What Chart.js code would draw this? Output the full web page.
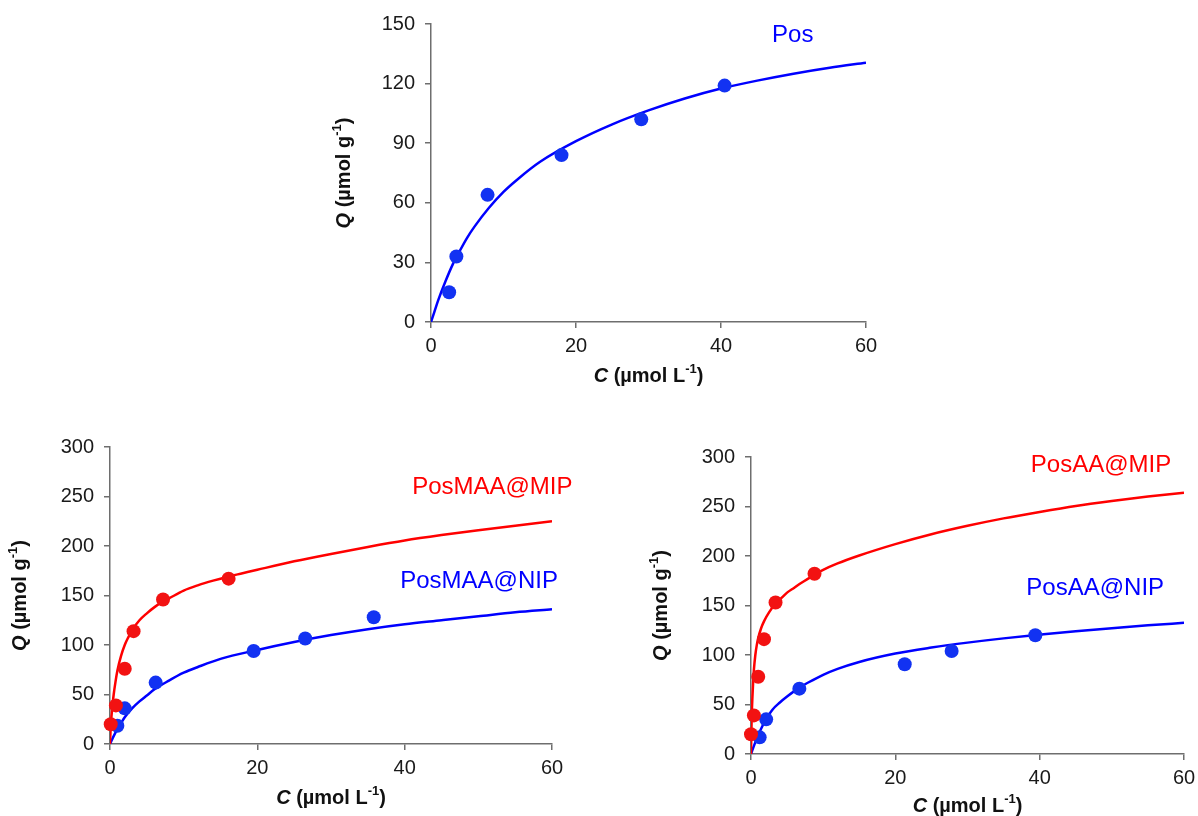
<!DOCTYPE html>
<html>
<head>
<meta charset="utf-8">
<title>Isothermes d'adsorption</title>
<script src="https://cdn.jsdelivr.net/npm/chart.js@4.4.1/dist/chart.umd.min.js"></script>
<style>
  html, body { margin: 0; padding: 0; background: #fff; overflow: hidden; }
  .panel { position: absolute; }
</style>
</head>
<body>
<div class="panel" id="panelPos"><canvas id="chartPos"></canvas></div>
<div class="panel" id="panelMAA"><canvas id="chartMAA"></canvas></div>
<div class="panel" id="panelAA"><canvas id="chartAA"></canvas></div>
<script>
// --- Pos ---
var posCurveC = [0, 0.5, 1, 2, 3, 4, 5, 6, 8, 10, 12, 15, 20, 25, 30, 35, 40, 45, 50, 55, 60];
var posCurveQ = [0, 5.5, 11, 20.5, 29, 36, 42.5, 48, 57.5, 65.5, 72, 80.5, 91, 99.5, 106.5, 112.5, 117.5, 121.5, 125, 128, 130.5];
var posExpC = [2.5, 3.5, 7.8, 18, 29, 40.5];
var posExpQ = [15, 33, 64, 84, 102, 119];

// --- PosMAA ---
var maaMipCurveC = [0, 0.1, 0.2, 0.35, 0.5, 0.75, 1, 1.5, 2, 2.5, 3, 4, 5, 6, 7, 8, 10, 12, 14, 16, 18, 20, 25, 30, 35, 40, 45, 50, 55, 60];
var maaMipCurveQ = [0, 18, 28, 40, 50, 63, 74, 89, 100, 108, 115, 125, 132, 138, 143, 147, 155, 160.5, 165, 169, 172.5, 176, 184.5, 192, 199, 205.5, 211, 216, 220.5, 225];
var maaMipExpC = [0.1, 0.8, 2.0, 3.2, 7.2, 16.1];
var maaMipExpQ = [20, 39, 76, 114, 146, 167];

var maaNipCurveC = [0, 0.25, 0.5, 1, 1.5, 2, 3, 4, 5, 6, 8, 10, 12, 15, 20, 25, 30, 35, 40, 45, 50, 55, 60];
var maaNipCurveQ = [0, 4, 8, 15, 21, 27, 36, 43, 49, 55, 64, 72, 78, 86, 95, 103, 110, 116, 121, 125, 129, 133, 136];
var maaNipExpC = [1.0, 2.0, 6.2, 19.5, 26.5, 35.8];
var maaNipExpQ = [18.5, 36, 62, 94, 106.5, 128];

// --- PosAA ---
var aaMipCurveC = [0, 0.05, 0.1, 0.2, 0.3, 0.4, 0.6, 0.8, 1, 1.4, 1.8, 2.5, 3.4, 4, 5, 6, 7, 8.8, 10, 12, 15, 20, 25, 30, 35, 40, 45, 50, 55, 60];
var aaMipCurveQ = [0, 22, 38, 58, 73, 85, 100, 110, 117, 127, 134, 143, 152, 156, 163, 168, 173, 181, 186, 192.5, 200.5, 212, 222, 230.5, 238, 244.5, 250.5, 255.5, 260, 264];
var aaMipExpC = [0, 0.4, 1.0, 1.8, 3.4, 8.8];
var aaMipExpQ = [20, 39, 78, 116, 153, 182];

var aaNipCurveC = [0, 0.5, 1, 1.5, 2, 3, 4, 5, 6.7, 8, 10, 12, 15, 20, 25, 30, 35, 40, 45, 50, 55, 60];
var aaNipCurveQ = [0, 10, 19, 27, 34, 45, 52, 58, 67, 72.5, 80, 86, 93, 101.5, 107.5, 112.5, 116.8, 120.5, 124, 127, 130, 132.5];
var aaNipExpC = [1.2, 2.1, 6.7, 21.3, 27.8, 39.4];
var aaNipExpQ = [16.8, 35, 66, 90.7, 104, 120];

// Graduations
var xTicks = [0, 20, 40, 60];
var yTicksPos = [0, 30, 60, 90, 120, 150];
var yTicksMIP = [0, 50, 100, 150, 200, 250, 300];

var BLUE = '#0000ff';
var BLUE_PT = '#1232f2';
var RED = '#ff0000';
var RED_PT = '#f21212';
var AXIS = '#6e6e6e';
var FONT = "'Liberation Sans', Arial, sans-serif";

var Y_W = 110, X_H = 90, PAD_T = 40, PAD_R = 30;

var toXY = function(xs, ys) {
    return xs.map(function(x, i) { return { x: x, y: ys[i] }; });
};

var curveSet = function(xs, ys, color) {
    return {
        type: 'scatter',
        data: toXY(xs, ys),
        showLine: true,
        borderColor: color,
        borderWidth: 2.5,
        pointRadius: 0,
        cubicInterpolationMode: 'monotone',
        order: 2
    };
};

var pointSet = function(xs, ys, color) {
    return {
        type: 'scatter',
        data: toXY(xs, ys),
        showLine: false,
        backgroundColor: color,
        borderColor: color,
        pointRadius: 7,
        pointBorderWidth: 0,
        clip: false,
        order: 1
    };
};

// texte avec italique et exposant
var drawRich = function(ctx, parts, x, y, angle) {
    ctx.save();
    ctx.translate(x, y);
    ctx.rotate(angle);
    var total = 0;
    parts.forEach(function(p) {
        ctx.font = p.font;
        p.w = ctx.measureText(p.text).width;
        total += p.w;
    });
    var cx = -total / 2;
    ctx.textBaseline = 'middle';
    ctx.textAlign = 'left';
    ctx.fillStyle = '#111';
    parts.forEach(function(p) {
        ctx.font = p.font;
        ctx.fillText(p.text, cx, p.sup ? -7 : 0);
        cx += p.w;
    });
    ctx.restore();
};

var titlePlugin = {
    id: 'axisTitles',
    afterDraw: function(chart) {
        var ctx = chart.ctx;
        var a = chart.chartArea;
        var o = chart.options.plugins.axisTitles;
        var big = 'bold 20px ' + FONT;
        var sup = 'bold 13px ' + FONT;
        drawRich(ctx, [
            { text: 'C', font: 'italic ' + big },
            { text: ' (\u00b5mol L', font: big },
            { text: '-1', font: sup, sup: true },
            { text: ')', font: big }
        ], (a.left + a.right) / 2, a.bottom + o.xOff, 0);
        drawRich(ctx, [
            { text: 'Q', font: 'italic ' + big },
            { text: ' (\u00b5mol g', font: big },
            { text: '-1', font: sup, sup: true },
            { text: ')', font: big }
        ], a.left - o.yOff, (a.top + a.bottom) / 2, -Math.PI / 2);

        // noms des séries
        ctx.save();
        ctx.font = '24px ' + FONT;
        ctx.textAlign = 'center';
        ctx.textBaseline = 'middle';
        (o.names || []).forEach(function(n) {
            ctx.fillStyle = n.color;
            ctx.fillText(n.text, chart.scales.x.getPixelForValue(n.x), chart.scales.y.getPixelForValue(n.y));
        });
        ctx.restore();
    }
};

var createChart = function(id, panelId, area, yMax, yTicks, datasets, names, titleOff) {
    var panel = document.getElementById(panelId);
    var w = (area.right - area.left) + Y_W + PAD_R;
    var h = (area.bottom - area.top) + PAD_T + X_H;
    panel.style.left = (area.left - Y_W) + 'px';
    panel.style.top = (area.top - PAD_T) + 'px';
    var canvas = document.getElementById(id);
    canvas.width = w;
    canvas.height = h;

    var tickFont = { family: FONT, size: 20 };
    return new Chart(canvas.getContext('2d'), {
        type: 'scatter',
        data: { datasets: datasets },
        plugins: [titlePlugin],
        options: {
            responsive: false,
            animation: false,
            layout: { padding: { left: 0, top: PAD_T, right: PAD_R, bottom: 0 } },
            plugins: {
                legend: { display: false },
                tooltip: { enabled: false },
                axisTitles: { xOff: titleOff.x, yOff: titleOff.y, names: names }
            },
            scales: {
                x: {
                    type: 'linear',
                    min: 0, max: 60,
                    afterBuildTicks: function(s) { s.ticks = xTicks.map(function(v) { return { value: v }; }); },
                    afterFit: function(s) { s.height = X_H; },
                    grid: { drawOnChartArea: false, drawTicks: true, tickLength: 6, color: AXIS, lineWidth: 1.5 },
                    border: { color: AXIS, width: 1.5 },
                    ticks: { color: '#1a1a1a', font: tickFont, padding: 6, maxRotation: 0 }
                },
                y: {
                    type: 'linear',
                    min: 0, max: yMax,
                    afterBuildTicks: function(s) { s.ticks = yTicks.map(function(v) { return { value: v }; }); },
                    afterFit: function(s) { s.width = Y_W; },
                    grid: { drawOnChartArea: false, drawTicks: true, tickLength: 6, color: AXIS, lineWidth: 1.5 },
                    border: { color: AXIS, width: 1.5 },
                    ticks: { color: '#1a1a1a', font: tickFont, padding: 10 }
                }
            }
        }
    });
};

createChart('chartPos', 'panelPos',
    { left: 431, top: 24, right: 866, bottom: 322 }, 150, yTicksPos,
    [
        pointSet(posExpC, posExpQ, BLUE_PT),
        curveSet(posCurveC, posCurveQ, BLUE)
    ],
    [{ text: 'Pos', color: BLUE, x: 49.9, y: 144.5 }],
    { x: 54, y: 87 });

createChart('chartMAA', 'panelMAA',
    { left: 110, top: 447, right: 552, bottom: 744 }, 300, yTicksMIP,
    [
        pointSet(maaMipExpC, maaMipExpQ, RED_PT),
        pointSet(maaNipExpC, maaNipExpQ, BLUE_PT),
        curveSet(maaMipCurveC, maaMipCurveQ, RED),
        curveSet(maaNipCurveC, maaNipCurveQ, BLUE)
    ],
    [
        { text: 'PosMAA@MIP', color: RED, x: 51.9, y: 259.6 },
        { text: 'PosMAA@NIP', color: BLUE, x: 50.1, y: 164.6 }
    ],
    { x: 54, y: 90 });

createChart('chartAA', 'panelAA',
    { left: 751, top: 457, right: 1184, bottom: 754 }, 300, yTicksMIP,
    [
        pointSet(aaMipExpC, aaMipExpQ, RED_PT),
        pointSet(aaNipExpC, aaNipExpQ, BLUE_PT),
        curveSet(aaMipCurveC, aaMipCurveQ, RED),
        curveSet(aaNipCurveC, aaNipCurveQ, BLUE)
    ],
    [
        { text: 'PosAA@MIP', color: RED, x: 48.5, y: 291.9 },
        { text: 'PosAA@NIP', color: BLUE, x: 47.7, y: 167.7 }
    ],
    { x: 52, y: 90 });
</script>
</body>
</html>
